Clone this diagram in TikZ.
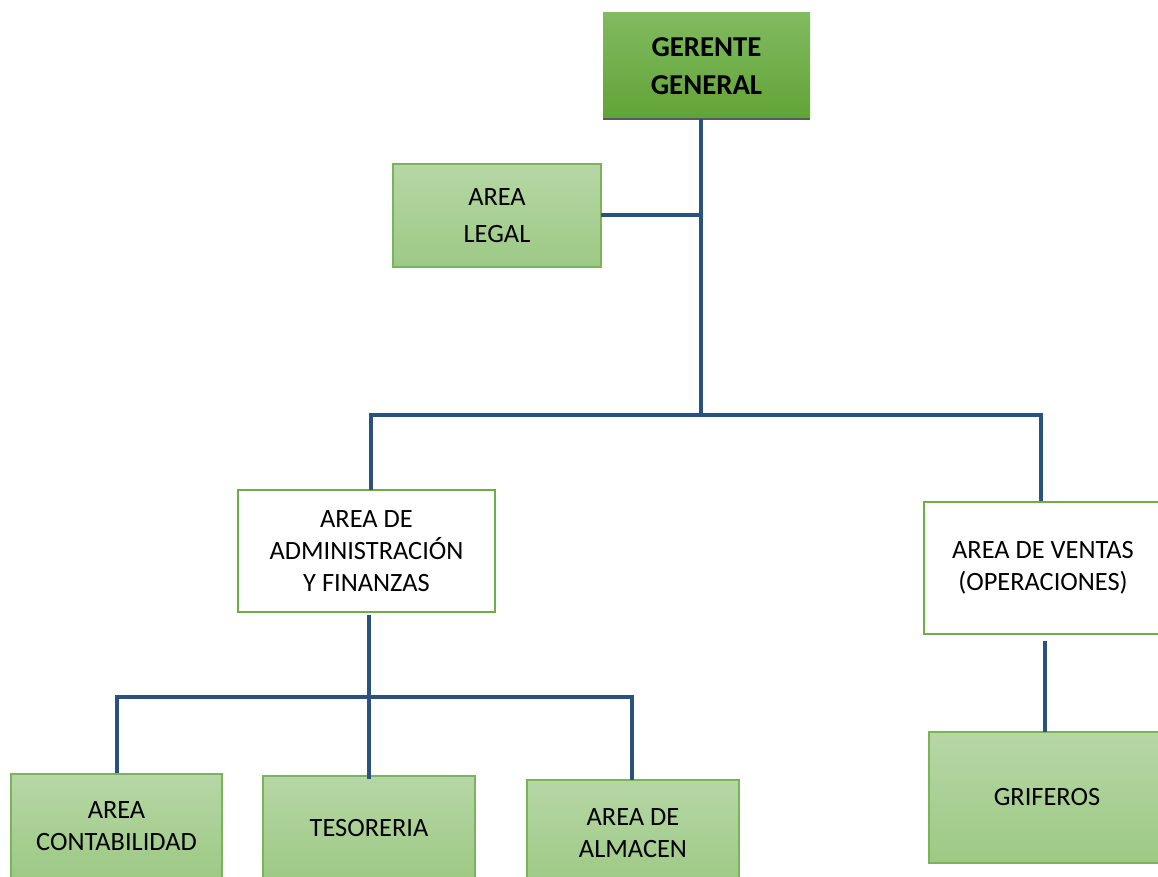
\documentclass[tikz,border=0pt]{standalone}
\usepackage{fontspec}
\setmainfont{Carlito}
\definecolor{gtop}{HTML}{80BB60}
\definecolor{gbot}{HTML}{62A336}
\definecolor{ltop}{HTML}{B6D7A6}
\definecolor{lbot}{HTML}{9DC984}
\definecolor{lborder}{HTML}{7AB35A}
\definecolor{wborder}{HTML}{70AD47}
\definecolor{conncol}{HTML}{2B5181}
\definecolor{shadowgray}{HTML}{5A5A5A}
\tikzset{
  sz/.style 2 args={minimum width=#1*0.75pt, minimum height=#2*0.75pt, inner sep=0pt, outer sep=0pt},
  txt/.style={align=center, font=\fontsize{19.8}{24}\selectfont},
  darkbox/.style={txt, top color=gtop, bottom color=gbot, draw=none, font=\fontsize{21.6}{28}\selectfont\bfseries},
  lightbox/.style={txt, top color=ltop, bottom color=lbot, draw=lborder, line width=1.2pt},
  whitebox/.style={txt, fill=white, draw=wborder, line width=2.2pt},
  conn/.style={draw=conncol, line width=3pt}
}
\begin{document}
\begin{tikzpicture}[x=0.75pt, y=-0.75pt]
\path[use as bounding box, clip] (0,0) rectangle (1158,877);
\fill[white] (0,0) rectangle (1158,877);

% nodes
\node[darkbox, sz={207}{106}] (g) at (706.5,66) {GERENTE\\GENERAL};
\draw[shadowgray, line width=2.2pt] (g.south west) -- (g.south east);
\node[lightbox, sz={208}{103}, font=\fontsize{19.8}{28}\selectfont] (legal) at (497,215.5) {AREA\\LEGAL};
\node[whitebox, sz={257}{122}] (admin) at (366.5,551) {AREA DE\\ADMINISTRACIÓN\\Y FINANZAS};
\node[whitebox, sz={238}{132}] (ventas) at (1043,568) {AREA DE VENTAS\\(OPERACIONES)};
\node[lightbox, sz={236}{131}] (grif) at (1047,797.5) {GRIFEROS};
\node[lightbox, sz={211}{104}] (conta) at (116.5,826) {AREA\\CONTABILIDAD};
\node[lightbox, sz={212}{104}] (teso) at (369,828) {TESORERIA};
\node[lightbox, sz={212}{107}] (alm) at (633,833.5) {AREA DE\\ALMACEN};

% junctions
\coordinate (j1) at (701,415);
\coordinate (jL) at (371,415);
\coordinate (jR) at (1041,415);
\coordinate (jA) at (369,697);
\coordinate (jC) at (117,697);
\coordinate (jM) at (632,697);
\coordinate (jV) at (1045,641);

% connectors
\draw[conn] (g.south -| j1) -- (j1);
\draw[conn] (legal.east) -- (legal.east -| j1);
\draw[conn] (jL |- admin.north) -- (jL) -- (jR) -- ([yshift=1pt]jR |- ventas.north);
\draw[conn] ([yshift=-2pt]jA |- admin.south) -- ([yshift=-2pt]jA |- teso.north);
\draw[conn] ([yshift=1pt]jC |- conta.north) -- (jC) -- (jM) -- (jM |- alm.north);
\draw[conn] (jV) -- (jV |- grif.north);
\end{tikzpicture}
\end{document}
